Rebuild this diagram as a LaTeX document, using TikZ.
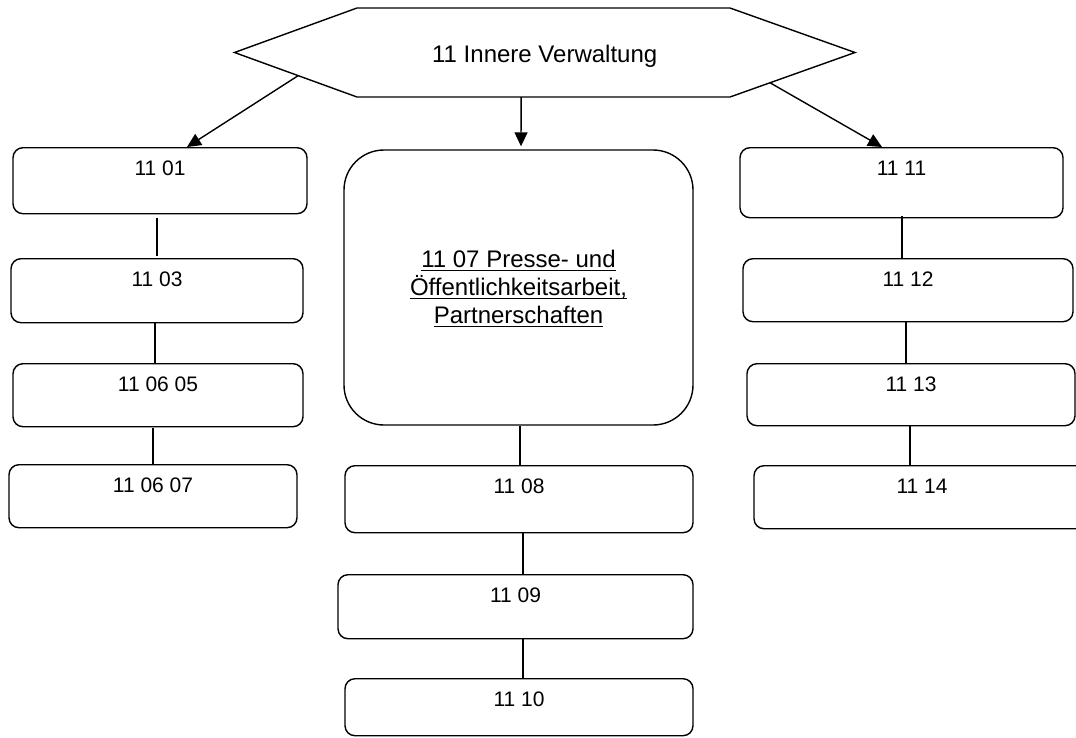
\documentclass[tikz,border=0pt]{standalone}
\usepackage{fontspec}
\setmainfont{Liberation Sans}
\usetikzlibrary{arrows.meta,calc}

\tikzset{
  sbox/.style={draw, line width=1.4pt, rounded corners=10pt, inner sep=0pt,
               anchor=north, text height=28pt,
               font=\fontsize{21}{25}\selectfont},
  bigbox/.style={draw, line width=1.4pt, rounded corners=40pt, inner sep=0pt},
  bigtext/.style={anchor=base, inner sep=0pt, font=\fontsize{24}{28}\selectfont},
  uline/.style={line width=1.3pt},
  link/.style={line width=1.6pt},
  arrowlink/.style={line width=1.4pt, -{Triangle[length=14pt,width=13pt]}},
  hexline/.style={line width=1.4pt, line join=miter}
}

\begin{document}
\begin{tikzpicture}[x=1pt,y=-1pt]
\useasboundingbox (0,0) rectangle (1076,737);

% top element: hexagon with its title
\coordinate (hL)  at (234.5,52.5);
\coordinate (hTL) at (357,8);
\coordinate (hTR) at (730,8);
\coordinate (hR)  at (855,52.5);
\coordinate (hBR) at (730,97);
\coordinate (hBL) at (357,97);
\draw[hexline] (hL) -- (hTL) -- (hTR) -- (hR) -- (hBR) -- (hBL) -- cycle;
\node[bigtext] (root) at (544.7,62) {11 Innere Verwaltung};

% left column
\node[sbox, minimum width=294pt, text depth=38pt] (n1101)   at (160,147) {11 01};
\node[sbox, minimum width=292pt, text depth=36pt] (n1103)   at (157,258) {11 03};
\node[sbox, minimum width=290pt, text depth=35pt] (n110605) at (158,363) {11 06 05};
\node[sbox, minimum width=288pt, text depth=35pt] (n110607) at (153,464) {11 06 07};

% middle column: large box with three underlined lines
\node[bigbox, minimum width=349pt, minimum height=275pt] (n1107) at (518.5,287.5) {};
\node[bigtext] (t1107a) at (518.5,267) {11 07 Presse- und};
\node[bigtext] (t1107b) at (518.5,295) {Öffentlichkeitsarbeit,};
\node[bigtext] (t1107c) at (518.5,323) {Partnerschaften};
\foreach \t in {t1107a,t1107b,t1107c}
  \draw[uline] ([yshift=-3.4pt]\t.base west) -- ([yshift=-3.4pt]\t.base east);

\node[sbox, minimum width=348pt, text depth=39pt] (n1108) at (519,465)   {11 08};
\node[sbox, minimum width=355pt, text depth=36pt] (n1109) at (515.5,574) {11 09};
\node[sbox, minimum width=348pt, text depth=29pt] (n1110) at (519,678)   {11 10};

% right column
\node[sbox, minimum width=323pt, text depth=42pt] (n1111) at (901.5,147) {11 11};
\node[sbox, minimum width=330pt, text depth=35pt] (n1112) at (908,258)   {11 12};
\node[sbox, minimum width=328pt, text depth=34pt] (n1113) at (911,363)   {11 13};
\node[sbox, minimum width=336pt, text depth=35pt] (n1114) at (922,465)   {11 14};

% arrows from the hexagon
\draw[arrowlink] ($(hL)!0.52!(hBL)$) -- ([xshift=27pt]n1101.north);
\draw[arrowlink, shorten >=3pt] ($(hBL)!0.44!(hBR)$) -- ([xshift=2.5pt]n1107.north);
\draw[arrowlink] ($(hR)!0.68!(hBR)$) -- ([xshift=-19.5pt]n1111.north);

% vertical links inside the columns
\draw[link] let \p1=(n1101.south), \p2=(n1103.north) in (\x1-3pt,\y1-4pt) -- (\x1-3pt,\y2+2pt);
\draw[link] let \p1=(n1103.south), \p2=(n110605.north) in (\x1-2pt,\y1) -- (\x1-2pt,\y2);
\draw[link] let \p1=(n110605.south), \p2=(n110607.north) in (\x1-5pt,\y1-1pt) -- (\x1-5pt,\y2);

\draw[link] let \p1=(n1107.south), \p2=(n1108.north) in (\x1+1.5pt,\y1) -- (\x1+1.5pt,\y2);
\draw[link] let \p1=(n1108.south), \p2=(n1109.north) in (\x1+4pt,\y1) -- (\x1+4pt,\y2);
\draw[link] let \p1=(n1109.south), \p2=(n1110.north) in (\x1+7.5pt,\y1) -- (\x1+7.5pt,\y2);

\draw[link] let \p1=(n1111.south), \p2=(n1112.north) in (\x1+0.5pt,\y1+2pt) -- (\x1+0.5pt,\y2);
\draw[link] let \p1=(n1112.south), \p2=(n1113.north) in (\x1-2pt,\y1) -- (\x1-2pt,\y2);
\draw[link] let \p1=(n1113.south), \p2=(n1114.north) in (\x1-1pt,\y1) -- (\x1-1pt,\y2);
\end{tikzpicture}
\end{document}
